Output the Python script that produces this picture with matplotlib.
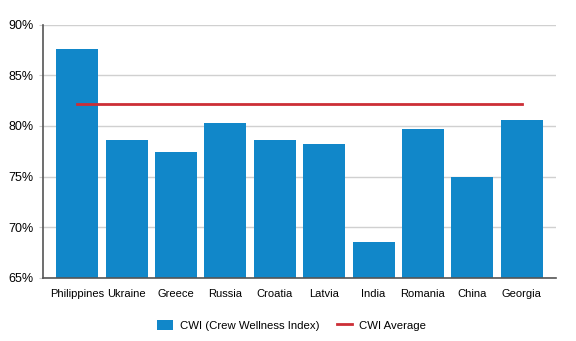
import numpy as np
import matplotlib.pyplot as plt
from matplotlib.ticker import FuncFormatter

countries = ["Philippines", "Ukraine", "Greece", "Russia", "Croatia",
             "Latvia", "India", "Romania", "China", "Georgia"]
cwi = [87.6, 78.6, 77.4, 80.3, 78.6, 78.2, 68.5, 79.7, 75.0, 80.6]
cwi_avg = 82.2

plt.rcParams['font.family'] = ['Liberation Sans', 'DejaVu Sans']

fig = plt.figure(figsize=(5.76, 3.41), dpi=100)
ax = fig.add_axes([0.0747, 0.185, 0.8903, 0.743])

x = np.arange(len(countries))
bars = ax.bar(x, cwi, width=0.85, color="#1187c9", zorder=2,
              label="CWI (Crew Wellness Index)")
line, = ax.plot([x[0], x[-1]], [cwi_avg, cwi_avg], color="#cc2e36", lw=2,
                zorder=3, label="CWI Average")

ax.set_ylim(65, 90)
ax.set_xlim(-0.69, 9.69)
ax.set_yticks([65, 70, 75, 80, 85, 90])
ax.yaxis.set_major_formatter(FuncFormatter(lambda v, p: f"{v:.0f}%"))
ax.set_xticks(x)
ax.set_xticklabels(countries)
ax.tick_params(axis='x', length=0, pad=8, labelsize=8)
ax.tick_params(axis='y', length=3, color="#cccccc", pad=4, labelsize=9)
ax.grid(axis='y', color="#d0d0d0", lw=1, zorder=0)

for s in ["top", "right"]:
    ax.spines[s].set_visible(False)
for s in ["left", "bottom"]:
    ax.spines[s].set_color("#555555")
    ax.spines[s].set_linewidth(1.2)
    ax.spines[s].set_zorder(4)

ax.legend([bars, line], ["CWI (Crew Wellness Index)", "CWI Average"],
          loc="upper center", bbox_to_anchor=(0.485, -0.125), ncol=2,
          frameon=False, handlelength=1.4, handleheight=1.0, columnspacing=1.5,
          handletextpad=0.6, fontsize=8.2)

plt.savefig("out.png", dpi=100)
